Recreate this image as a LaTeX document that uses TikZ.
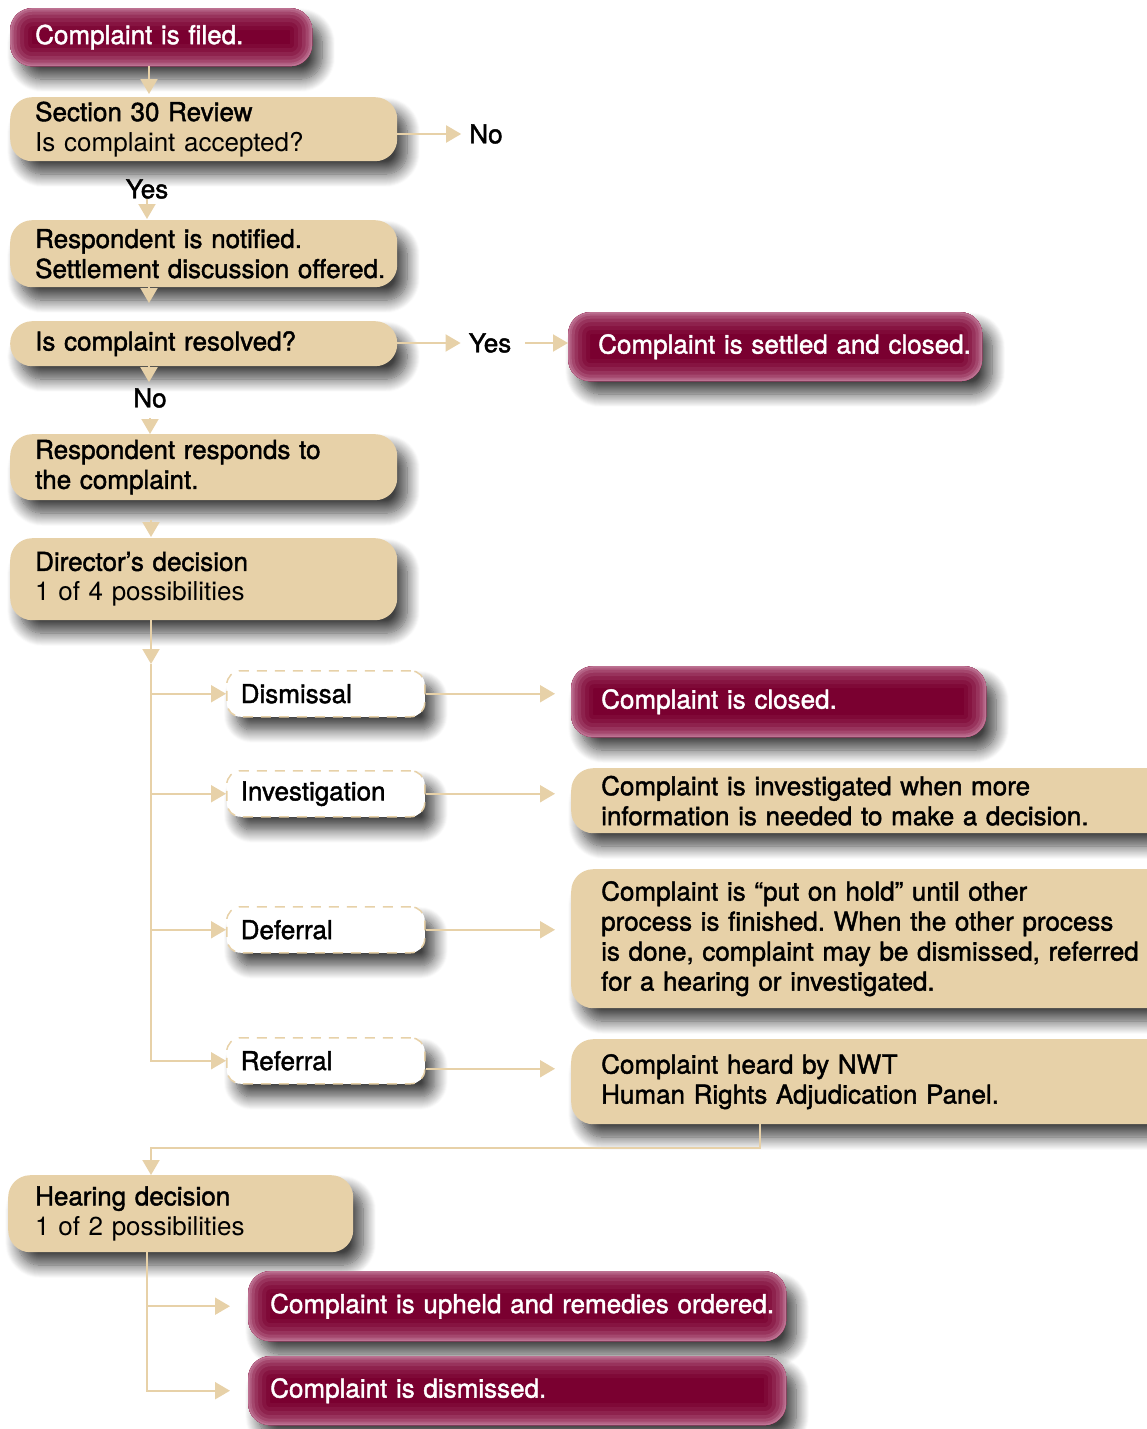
\documentclass[tikz,border=0pt]{standalone}
\usepackage{fontspec}
\setmainfont{TeX Gyre Heros}
\newfontfamily\medfont[FakeBold=1.6]{TeX Gyre Heros}
\usetikzlibrary{arrows.meta,shadows.blur}
\definecolor{sand}{RGB}{231,209,168}
\definecolor{wine}{RGB}{122,0,48}
\definecolor{glow}{RGB}{206,142,170}
\newcommand{\lite}[1]{{\rmfamily #1}}
\newcommand{\colw}{367pt}
\newcommand{\widew}{580pt}
\frenchspacing

\begin{document}
\begin{tikzpicture}[
      x=1pt, y=-1pt, % one unit = one pixel of the chart
      every node/.style={font=\medfont\fontsize{26}{30}\selectfont},
      pad/.style={execute at begin node={\leftskip=#1}},
      stage/.style={fill=sand, rounded corners=22pt, anchor=north west, align=left,
        inner xsep=10pt, inner ysep=0pt, pad=15pt,
        blur shadow={shadow xshift=10pt, shadow yshift=-13pt, shadow blur radius=13pt,
          shadow blur steps=14, shadow opacity=75}},
      outcome/.style={stage, fill=wine, text=white,
        path picture={
          \foreach \w/\c in {44/6,36/14,28/24,20/36,13/50,7/66,3/80}
            \draw[line width=\w pt, draw=glow!\c!wine, rounded corners=22pt]
              (path picture bounding box.south west) rectangle (path picture bounding box.north east);
        }},
      option/.style={stage, fill=white, draw=sand, line width=1.5pt,
        dash pattern=on 10pt off 8pt, pad=4pt, rounded corners=14pt},
      flow/.style={draw=sand, line width=2pt, -{Triangle[length=15pt,width=17pt]}},
      answer/.style={inner sep=0pt, text=black}
    ]
    \useasboundingbox (0,0) rectangle (1147,1429);
    % intake column
    \node[outcome, text width=282pt, minimum height=58pt] (filed) at (10,8) {Complaint is filed.};
    \node[stage, text width=\colw, minimum height=64pt] (review) at (10,97)
      {Section 30 Review\\\lite{Is complaint accepted?}};
    \node[answer] (noA) at (486,134) {No};
    \node[answer] (yesA) at (147,189) {Yes};
    \node[stage, text width=\colw, minimum height=67pt] (notified) at (10,220)
      {Respondent is notified.\\Settlement discussion offered.};
    \node[stage, text width=\colw, minimum height=45pt] (resolved) at (10,321) {Is complaint resolved?};
    \node[answer] (yesB) at (490,343) {Yes};
    \node[outcome, pad=20pt, text width=394pt, minimum height=69pt] (settled) at (568,312)
      {Complaint is settled and closed.};
    \node[answer] (noB) at (150,398) {No};
    \node[stage, text width=\colw, minimum height=66pt] (responds) at (10,434)
      {Respondent responds to\\the complaint.};
    \node[stage, text width=\colw, minimum height=82pt] (director) at (10,538)
      {Director’s decision\\\lite{1 of 4 possibilities}};
    % the four possibilities
    \node[option, text width=178pt, minimum height=46pt] (dismissal) at (226,670) {Dismissal};
    \node[option, text width=178pt, minimum height=46pt] (investigation) at (226,770) {Investigation};
    \node[option, text width=178pt, minimum height=46pt] (deferral) at (226,906) {Deferral};
    \node[option, text width=178pt, minimum height=46pt] (referral) at (226,1037) {Referral};
    \node[outcome, pad=20pt, text width=395pt, minimum height=71pt] (closed) at (571,666)
      {Complaint is closed.};
    \node[stage, pad=20pt, text width=\widew, minimum height=65pt] (investigated) at (571,768)
      {Complaint is investigated when more\\information is needed to make a decision.};
    \node[stage, pad=20pt, text width=\widew, minimum height=139pt] (deferred) at (571,869)
      {Complaint is “put on hold” until other\\process is finished. When the other process\\is done, complaint may be dismissed, referred\\for a hearing or investigated.};
    \node[stage, pad=20pt, text width=\widew, minimum height=85pt] (heard) at (571,1039)
      {Complaint heard by NWT\\Human Rights Adjudication Panel.};
    % hearing
    \node[stage, pad=17pt, text width=325pt, minimum height=77pt] (hearing) at (8,1175)
      {Hearing decision\\\lite{1 of 2 possibilities}};
    \node[outcome, pad=12pt, text width=518pt, minimum height=70pt] (upheld) at (248,1271)
      {Complaint is upheld and remedies ordered.};
    \node[outcome, pad=12pt, text width=518pt, minimum height=69pt] (dismissed) at (248,1356)
      {Complaint is dismissed.};
    % connectors
    \coordinate (col) at (149,0);
    \coordinate (dtop) at (151,664);
    \coordinate (pdrop) at (760,1148);
    \coordinate (hcol) at (147,0);
    \coordinate (rfout) at ([yshift=-8pt]referral.east);
    \draw[flow, shorten >=3pt] (filed.south -| col) -- (review.north -| col);
    \draw[flow, shorten >=8pt] (review.east |- noA) -- (noA.west);
    \draw[flow, shorten >=1pt] (yesA.south) -- (notified.north -| yesA);
    \draw[flow, shorten >=18pt] (notified.south -| col) -- (resolved.north -| col);
    \draw[flow, shorten >=8pt] (resolved.east |- yesB) -- (yesB.west);
    \draw[flow, shorten <=14pt] (yesB.east) -- (settled.west |- yesB);
    \draw[flow, shorten >=6pt] (resolved.south -| col) -- (noB.north -| col);
    \draw[flow, shorten <=10pt] (noB.south) -- (responds.north -| noB);
    \draw[flow, shorten <=20pt, shorten >=1pt] (responds.south -| dtop) -- (director.north -| dtop);
    \draw[flow] (director.south -| dtop) -- (dtop);
    \draw[flow] (dtop) |- (referral.west);
    \foreach \n in {dismissal, investigation, deferral}
      \draw[flow] (dtop |- \n.west) -- (\n.west);
    \draw[flow, shorten >=16pt] (dismissal.east) -- (closed.west |- dismissal.east);
    \draw[flow, shorten >=16pt] (investigation.east) -- (investigated.west |- investigation.east);
    \draw[flow, shorten >=16pt] (deferral.east) -- (deferred.west |- deferral.east);
    \draw[flow, shorten >=16pt] (rfout) -- (heard.west |- rfout);
    \draw[flow] (heard.south -| pdrop) -- (pdrop) -| (hearing.north -| dtop);
    \draw[flow, shorten >=18pt] (hearing.south -| hcol) |- (dismissed.west);
    \draw[flow, shorten >=18pt] (hcol |- upheld.west) -- (upheld.west);
\end{tikzpicture}
\end{document}
